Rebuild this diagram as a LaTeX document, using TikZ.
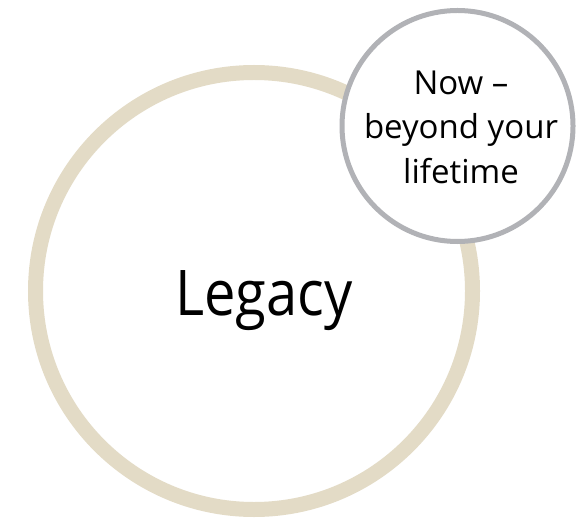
\documentclass[tikz,border=0pt]{standalone}
\usepackage{fontspec}
\setmainfont{Open Sans}
\newfontfamily\bigfont[FakeStretch=0.89]{Open Sans}
\newfontfamily\smallfont[FakeStretch=1.0]{Open Sans}
\definecolor{ringbeige}{HTML}{E3DBC6}
\definecolor{ringgray}{HTML}{B1B2B6}
\tikzset{
  bigring/.style={circle, draw=ringbeige, line width=15bp, fill=white, minimum size=437bp, inner sep=0pt},
  smallring/.style={circle, draw=ringgray, line width=5bp, fill=white, minimum size=231bp, inner sep=0pt},
  bigtext/.style={font=\bigfont\fontsize{63bp}{70bp}\selectfont, inner sep=0pt},
  smalltext/.style={font=\smallfont\fontsize{33bp}{44.5bp}\selectfont, align=center, inner sep=0pt}
}
\begin{document}
\begin{tikzpicture}[x=1bp, y=-1bp]
  \useasboundingbox (0,0) rectangle (582,518);
  \node[bigring] (legacy) at (254,291) {};
  \node[bigtext, anchor=base] (legacytext) at (264,315) {Legacy};
  \node[smallring] (now) at (457.5,126) {};
  \node[smalltext] (nowtext) at (461,127) {Now –\\beyond your\\lifetime};
\end{tikzpicture}
\end{document}
